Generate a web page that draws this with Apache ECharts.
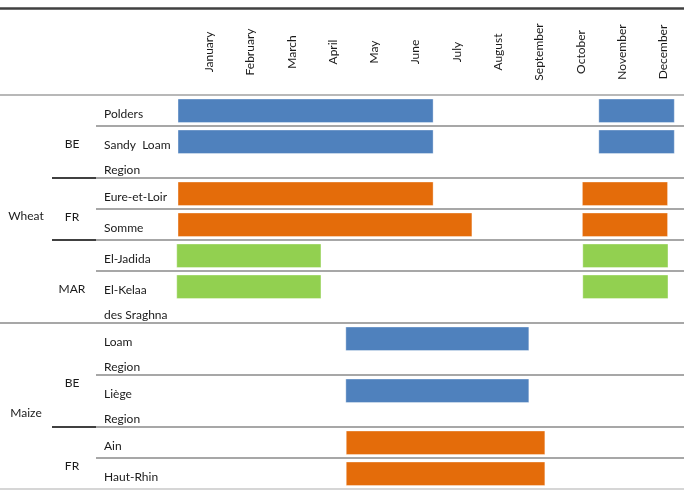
<!DOCTYPE html>
<html>
<head>
<meta charset="utf-8">
<script src="https://cdn.jsdelivr.net/npm/echarts@6/dist/echarts.min.js"></script>
<style>
  html, body { margin: 0; background: #fff; }
  #chart { width: 684px; height: 491px; }
</style>
</head>
<body>
<div id="chart"></div>
<script>
// month columns
const months = ['January', 'February', 'March', 'April', 'May', 'June',
  'July', 'August', 'September', 'October', 'November', 'December']
// crop -> country -> region tree
const crops = ['Wheat', 'Maize']
const countries = ['BE', 'FR', 'MAR', 'BE', 'FR']
const countryCrop = [0, 0, 0, 1, 1]
const regions = ['Polders', 'Sandy  Loam\nRegion', 'Eure-et-Loir', 'Somme', 'El-Jadida',
  'El-Kelaa\ndes Sraghna', 'Loam\nRegion', 'Liège\nRegion', 'Ain', 'Haut-Rhin']
const regionCountry = [0, 0, 1, 1, 2, 2, 3, 3, 4, 4]
// growing periods, in months counted from 1 January
const periodRegion = [0, 0, 1, 1, 2, 2, 3, 3, 4, 4, 5, 5, 6, 7, 8, 9]
const periodStart = [0, 9.98, 0, 9.98, 0, 9.59, 0, 9.59, -0.03, 9.6, -0.03, 9.6, 3.98, 3.98, 3.99, 3.99]
const periodEnd = [6.05, 11.77, 6.05, 11.77, 6.05, 11.61, 6.97, 11.61, 3.39, 11.62, 3.39, 11.62, 8.32, 8.32, 8.7, 8.7]

const countryColor = { BE: '#4f81bd', FR: '#e46c0a', MAR: '#92d050' }
const FONT = 'Lato, sans-serif'
const FS = 12
const TEXT = '#1a1a1a'

// row heights in px (y axis runs in px units): one line 31, each extra line +21
const rowH = regions.map(r => 31 + 21 * (r.split('\n').length - 1))
const rowTop = []
let acc = 0
rowH.forEach(h => { rowTop.push(acc); acc += h })
const totalH = acc

function spanOf(list) {
  return [rowTop[list[0]], rowTop[list[list.length - 1]] + rowH[list[list.length - 1]]]
}

const chart = echarts.init(document.getElementById('chart'))

const option = {
  animation: false,
  grid: [
    { left: 173.8, top: 95, width: 510.3, height: totalH },
    { left: 188.4, top: 95, width: 502.8, height: 10 }
  ],
  xAxis: [
    { type: 'value', gridIndex: 0, min: -0.1, max: 12, show: false },
    {
      type: 'category', gridIndex: 1, position: 'top', data: months,
      axisLine: { show: false }, axisTick: { show: false }, splitLine: { show: false },
      axisLabel: {
        rotate: 90, align: 'center', margin: 43, interval: 0,
        fontSize: FS, fontFamily: FONT, color: TEXT
      }
    }
  ],
  yAxis: [
    { type: 'value', gridIndex: 0, min: 0, max: totalH, inverse: true, show: false },
    { type: 'value', gridIndex: 1, show: false }
  ],
  graphic: [
    { type: 'line', shape: { x1: 0, y1: 8.5, x2: 684, y2: 8.5 }, style: { stroke: '#404040', lineWidth: 2.5 } },
    { type: 'line', shape: { x1: 0, y1: 95, x2: 684, y2: 95 }, style: { stroke: '#a0a0a0', lineWidth: 1.5 } }
  ],
  series: [
    {
      // table rows: region labels and separators
      type: 'custom',
      xAxisIndex: 0, yAxisIndex: 0,
      data: regions.map((r, i) => [0, rowTop[i], i]),
      renderItem: function (params, api) {
        const i = api.value(2)
        const top = rowTop[i]
        const bottom = top + rowH[i]
        const yb = api.coord([0, bottom])[1]
        const children = regions[i].split('\n').map((t, k) => ({
          type: 'text',
          style: {
            text: t, x: 104, y: api.coord([0, top + 19 + 25.5 * k])[1],
            verticalAlign: 'middle', fontSize: FS, fontFamily: FONT, fill: TEXT
          }
        }))
        const last = i === regions.length - 1
        const c = regionCountry[i]
        const nc = last ? -1 : regionCountry[i + 1]
        if (last) {
          children.push({ type: 'line', shape: { x1: 0, y1: yb, x2: 684, y2: yb }, style: { stroke: '#c8c8c8', lineWidth: 1.5 } })
        } else if (countryCrop[c] !== countryCrop[nc]) {
          children.push({ type: 'line', shape: { x1: 0, y1: yb, x2: 684, y2: yb }, style: { stroke: '#8a8a8a', lineWidth: 1.5 } })
        } else {
          if (c !== nc) {
            children.push({ type: 'line', shape: { x1: 52, y1: yb, x2: 96, y2: yb }, style: { stroke: '#000', lineWidth: 1.5 } })
          }
          children.push({ type: 'line', shape: { x1: 96, y1: yb, x2: 684, y2: yb }, style: { stroke: '#8a8a8a', lineWidth: 1.5 } })
        }
        return { type: 'group', children }
      }
    },
    {
      // country labels
      type: 'custom',
      xAxisIndex: 0, yAxisIndex: 0,
      data: countries.map((c, j) => [0, j]),
      renderItem: function (params, api) {
        const j = api.value(1)
        const span = spanOf(regionCountry.map((c, i) => c === j ? i : -1).filter(i => i >= 0))
        return {
          type: 'text',
          style: {
            text: countries[j], x: 72, y: api.coord([0, (span[0] + span[1]) / 2 + 8])[1],
            align: 'center', verticalAlign: 'middle', fontSize: FS, fontFamily: FONT, fill: TEXT
          }
        }
      }
    },
    {
      // crop labels
      type: 'custom',
      xAxisIndex: 0, yAxisIndex: 0,
      data: crops.map((c, k) => [0, k]),
      renderItem: function (params, api) {
        const k = api.value(1)
        const span = spanOf(regionCountry.map((c, i) => countryCrop[c] === k ? i : -1).filter(i => i >= 0))
        return {
          type: 'text',
          style: {
            text: crops[k], x: 26, y: api.coord([0, (span[0] + span[1]) / 2 + 7])[1],
            align: 'center', verticalAlign: 'middle', fontSize: FS, fontFamily: FONT, fill: TEXT
          }
        }
      }
    },
    {
      // growing periods
      type: 'custom',
      xAxisIndex: 0, yAxisIndex: 0,
      encode: { x: [0, 1], y: 2 },
      data: periodRegion.map((r, n) => [periodStart[n], periodEnd[n], rowTop[r], r]),
      renderItem: function (params, api) {
        const top = api.value(2)
        const p0 = api.coord([api.value(0), top + 4])
        const p1 = api.coord([api.value(1), top + 27.5])
        const color = countryColor[countries[regionCountry[api.value(3)]]]
        return {
          type: 'rect',
          shape: { x: p0[0], y: p0[1], width: p1[0] - p0[0], height: p1[1] - p0[1] },
          style: { fill: color, stroke: 'rgba(255,255,255,0.35)', lineWidth: 1 }
        }
      }
    }
  ]
}

chart.setOption(option)
</script>
</body>
</html>
